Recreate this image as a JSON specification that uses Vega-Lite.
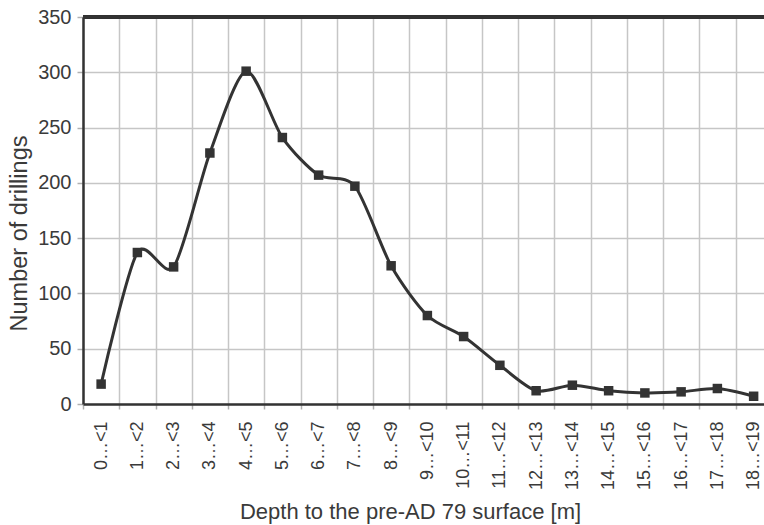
{
  "$schema": "https://vega.github.io/schema/vega-lite/v6.json",
  "width": 681,
  "height": 387,
  "autosize": {"type": "none"},
  "padding": {"left": 83, "top": 17, "right": 0, "bottom": 121},
  "background": "white",
  "config": {
    "view": {"stroke": null},
    "font": "Liberation Sans",
    "axis": {"labelFont": "Liberation Sans", "titleFont": "Liberation Sans", "labelColor": "#3a3a3a", "titleColor": "#3a3a3a", "titleFontWeight": "normal"}
  },
  "data": {
    "values": [
      {"depth": "0…<1", "n": 18},
      {"depth": "1…<2", "n": 137},
      {"depth": "2…<3", "n": 124},
      {"depth": "3…<4", "n": 227},
      {"depth": "4…<5", "n": 301},
      {"depth": "5…<6", "n": 241},
      {"depth": "6…<7", "n": 207},
      {"depth": "7…<8", "n": 197},
      {"depth": "8…<9", "n": 125},
      {"depth": "9…<10", "n": 80},
      {"depth": "10…<11", "n": 61},
      {"depth": "11…<12", "n": 35},
      {"depth": "12…<13", "n": 12},
      {"depth": "13…<14", "n": 17},
      {"depth": "14…<15", "n": 12},
      {"depth": "15…<16", "n": 10},
      {"depth": "16…<17", "n": 11},
      {"depth": "17…<18", "n": 14},
      {"depth": "18…<19", "n": 7}
    ]
  },
  "encoding": {
    "x": {
      "field": "depth", "type": "ordinal", "sort": null,
      "scale": {"type": "band", "paddingInner": 0, "paddingOuter": 0, "range": [0, 688.75]},
      "axis": {
        "title": "Depth to the pre-AD 79 surface [m]",
        "titleFontSize": 22,
        "titlePadding": 12,
        "titleX": 327,
        "titleAnchor": "middle",
        "labelAngle": -90,
        "labelFontSize": 18,
        "labelPadding": 12,
        "tickBand": "extent",
        "grid": true,
        "gridColor": "#c6c6c6",
        "gridWidth": 1.5,
        "tickColor": "#b0b0b0",
        "tickSize": 5,
        "tickWidth": 1.5,
        "domainColor": "#333",
        "domainWidth": 2.5
      }
    },
    "y": {
      "field": "n", "type": "quantitative",
      "scale": {"domain": [0, 350], "nice": false},
      "axis": {
        "title": "Number of drillings",
        "titleFontSize": 23.5,
        "titlePadding": 6,
        "titleY": 216,
        "titleAnchor": "middle",
        "values": [0, 50, 100, 150, 200, 250, 300, 350],
        "labelFontSize": 20,
        "labelPadding": 6,
        "grid": true,
        "gridColor": "#c6c6c6",
        "gridWidth": 1.5,
        "tickColor": "#b0b0b0",
        "tickSize": 6,
        "tickWidth": 1.5,
        "domainColor": "#333",
        "domainWidth": 2.5
      }
    }
  },
  "layer": [
    {
      "mark": {"type": "rule", "color": "#333", "strokeWidth": 2.5},
      "encoding": {"y": {"datum": 350}, "x": null}
    },
    {
      "mark": {"type": "line", "interpolate": "cardinal", "tension": 0.2, "color": "#333", "strokeWidth": 3}
    },
    {
      "mark": {"type": "point", "shape": "square", "filled": true, "size": 90, "color": "#333", "opacity": 1}
    }
  ]
}
